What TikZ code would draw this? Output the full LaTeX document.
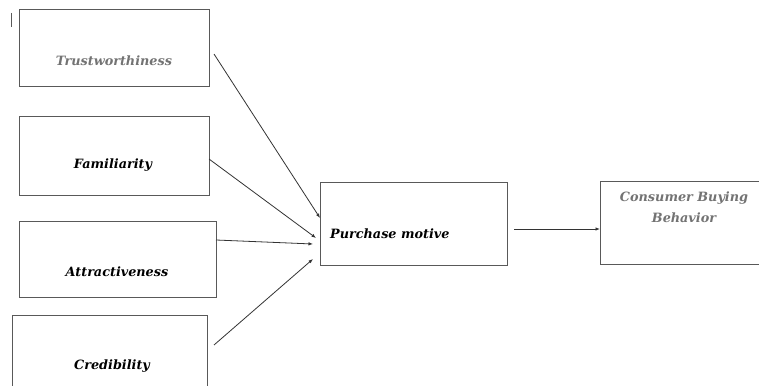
\documentclass[tikz,border=0pt]{standalone}
\usepackage{fontspec}
\setmainfont{DejaVu Serif}
\usetikzlibrary{arrows.meta}
\begin{document}
\begin{tikzpicture}[x=1pt,y=-1pt,
  box/.style={draw=black!65, line width=1pt, inner sep=0pt},
  lbl/.style={font=\bfseries\itshape\fontsize{12.8}{21}\selectfont, inner sep=0pt},
  grey/.style={text=black!55},
  link/.style={draw=black!80, line width=0.8pt, -{Latex[length=4.5pt,width=3.5pt]}}]
\useasboundingbox (0,0) rectangle (759,385);
\clip (0,0) rectangle (759,385);
\fill[white] (0,0) rectangle (759,385);
% boxes
\draw[box] (19,10) rectangle (209,87);
\draw[box] (19,116) rectangle (209,195);
\draw[box] (19,221) rectangle (216,297);
\draw[box] (12,315) rectangle (207,395);
\draw[box] (320,182) rectangle (507,265);
\draw[box] (600,181) rectangle (770,264);
\draw[black!65, line width=1pt] (11,13) -- (11,27);
% labels
\node[lbl,grey] (t) at (114,61) {Trustworthiness};
\node[lbl] (f) at (113,165) {Familiarity};
\node[lbl] (a) at (117,272) {Attractiveness};
\node[lbl] (c) at (112,366) {Credibility};
\node[lbl, anchor=west] (p) at (330,234) {Purchase motive};
\node[lbl,grey, align=center] (cb) at (684,207) {Consumer Buying\\Behavior};
% connector endpoints
\coordinate (t1) at (214,54);  \coordinate (t2) at (320,218);
\coordinate (f1) at (209,159); \coordinate (f2) at (316,238);
\coordinate (a1) at (216,240); \coordinate (a2) at (313,244);
\coordinate (c1) at (214,345); \coordinate (c2) at (313,259);
\coordinate (p1) at (514,229); \coordinate (p2) at (600,229);
\draw[link] (t1) -- (t2);
\draw[link] (f1) -- (f2);
\draw[link] (a1) -- (a2);
\draw[link] (c1) -- (c2);
\draw[link] (p1) -- (p2);
\end{tikzpicture}
\end{document}
